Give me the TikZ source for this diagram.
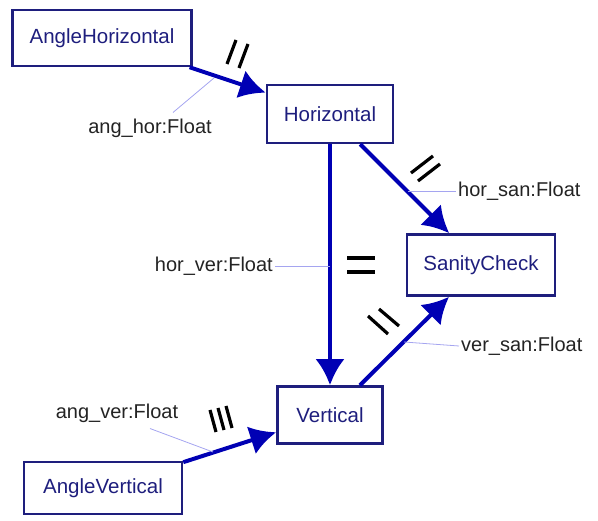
\documentclass[tikz,border=0pt]{standalone}
\usepackage{fontspec}
\setmainfont{Liberation Sans}
\usetikzlibrary{arrows.meta,calc}
\definecolor{boxnavy}{RGB}{30,30,125}
\definecolor{flowblue}{RGB}{0,0,180}
\definecolor{leaderblue}{RGB}{165,165,240}
\definecolor{labelgray}{RGB}{35,35,35}

\begin{document}
\begin{tikzpicture}[x=1pt,y=-1pt,
	box/.style={draw=boxnavy,line width=2.5pt,text=boxnavy,inner sep=0pt,font=\fontsize{20.5}{24}\selectfont},
	flow/.style={draw=flowblue,line width=4pt,-{Latex[length=26pt,width=29pt]}},
	leader/.style={draw=leaderblue,line width=0.8pt},
	lbl/.style={text=labelgray,inner sep=2pt,font=\fontsize{20}{24}\selectfont},
	tick/.style={line width=3.2pt,black}]

	\useasboundingbox (0,0) rectangle (598,521);

	% Draw the blocks
	\node[box,minimum width=179pt,minimum height=56pt] (anglehor) at (102,38) {AngleHorizontal};
	\node[box,minimum width=126pt,minimum height=58pt] (hor) at (330,114) {Horizontal};
	\node[box,minimum width=148pt,minimum height=61pt] (sanity) at (481,265) {SanityCheck};
	\node[box,minimum width=105pt,minimum height=57pt] (ver) at (330,415) {Vertical};
	\node[box,minimum width=158pt,minimum height=52pt] (anglever) at (103,488) {AngleVertical};

	% Draw the flows between blocks
	\draw[flow] (anglehor) -- (hor);
	\draw[flow] (hor) -- (sanity);
	\draw[flow] (hor) -- (ver);
	\draw[flow] (ver) -- (sanity);
	\draw[flow] (anglever) -- (ver);

	% Points where the labels touch the flows
	\coordinate (angtap) at (214,78);
	\coordinate (hstap) at (408,191);
	\coordinate (hvtap) at (330,266);
	\coordinate (vstap) at (404,342);
	\coordinate (avtap) at (213,452);

	% Draw the flow labels and their leaders
	\node[lbl] (anghorlbl) at (150,128) {ang\_hor:Float};
	\node[lbl,anchor=west] (horsanlbl) at (456,191) {hor\_san:Float};
	\node[lbl,anchor=east] (horverlbl) at (275,266) {hor\_ver:Float};
	\node[lbl,anchor=west] (versanlbl) at (459,346) {ver\_san:Float};
	\node[lbl] (angverlbl) at (117,413) {ang\_ver:Float};

	\draw[leader] ($(anghorlbl.north)+(23,-4)$) -- (angtap);
	\draw[leader] (horsanlbl.west) -- (hstap);
	\draw[leader] (horverlbl.east) -- (hvtap);
	\draw[leader] (versanlbl.west) -- (vstap);
	\draw[leader] ($(angverlbl.south)+(33,4)$) -- (avtap);

	% Draw the rate marks on the flows
	\draw[tick] (227,64) -- (236,40);
	\draw[tick] (239,68) -- (248,44);

	\draw[tick] (411,173) -- (433,156);
	\draw[tick] (418,181) -- (440,164);

	\draw[tick] (347,258) -- (375,258);
	\draw[tick] (347,272) -- (375,272);

	\draw[tick] (368,316) -- (388,334);
	\draw[tick] (379,309) -- (399,326);

	\draw[tick] (210,410) -- (216,432);
	\draw[tick] (218,408) -- (224,430);
	\draw[tick] (226,406) -- (232,428);

\end{tikzpicture}
\end{document}
